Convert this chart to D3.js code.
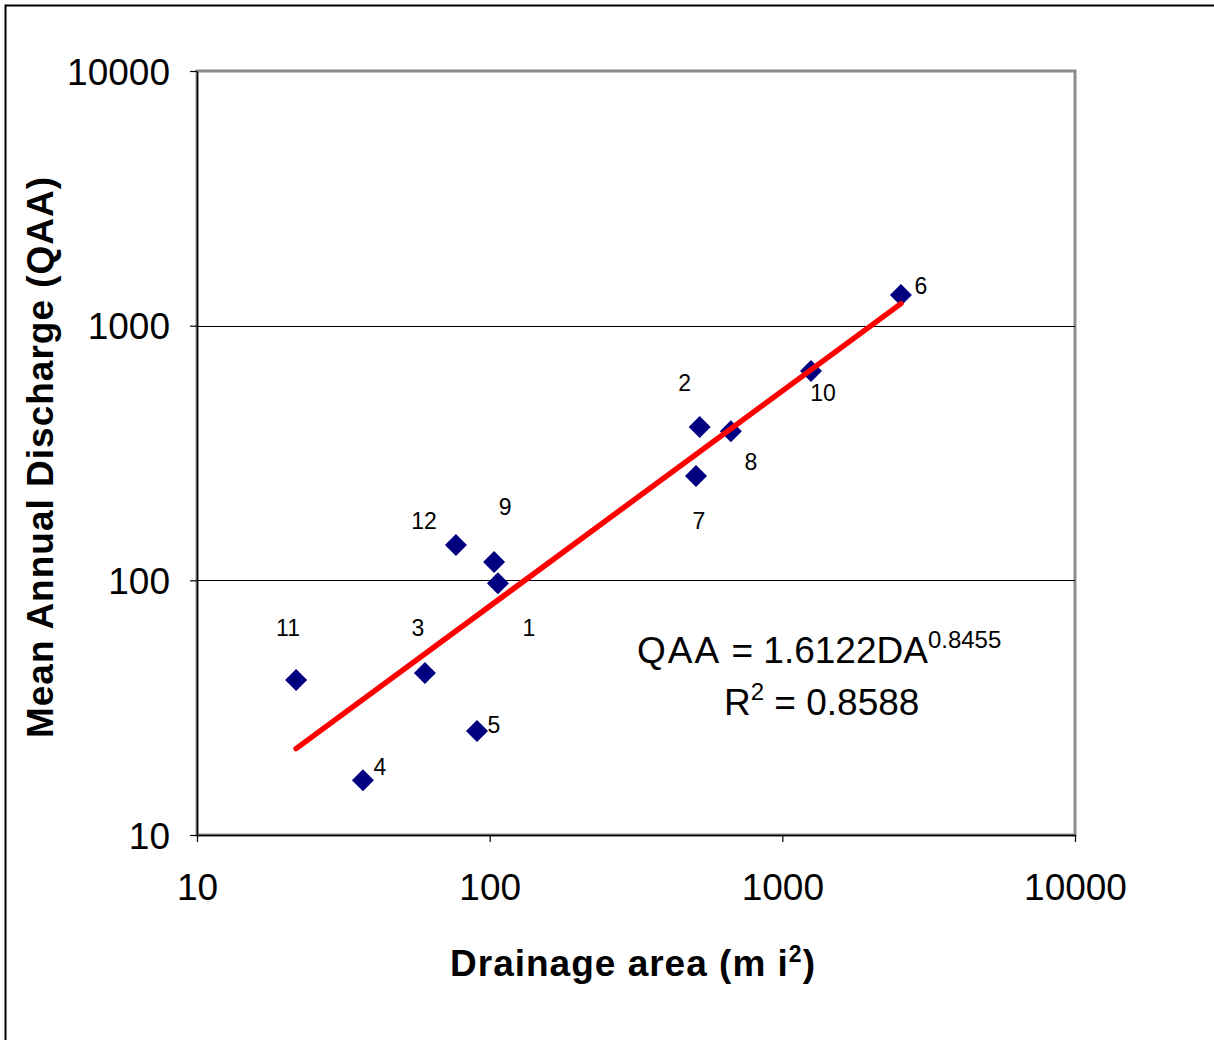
<!DOCTYPE html>
<html>
<head>
<meta charset="utf-8">
<script src="https://cdn.jsdelivr.net/npm/d3@7"></script>
<style>
  body { margin: 0; background: #fff; }
  text { font-family: "Liberation Sans", Arial, sans-serif; }
</style>
</head>
<body>
<script>
// gauging stations: drainage area (mi2) and mean annual discharge
var stations = ["1", "2", "3", "4", "5", "6", "7", "8", "9", "10", "11", "12"];
var drainageArea = [106.7, 522, 60.1, 36.9, 90.5, 2543, 507, 667, 103.5, 1253, 21.8, 76.7];
var meanDischarge = [97.5, 400, 43.3, 16.4, 25.6, 1319, 257, 385, 118, 663, 40.6, 137.6];
// where each station number sits relative to its marker
var labelOffsets = [[31, 45], [-15, -44], [-7, -45], [17, -13], [17, -6], [20, -9],
                    [3, 45], [20, 31], [11, -55], [12, 22], [-8, -52], [-32, -24]];
var tickValues = [10, 100, 1000, 10000];
// power trendline QAA = a * DA^b
var fitA = 1.6122, fitB = 0.8455, fitR2 = 0.8588;

var margin = { top: 71, left: 197 },
    width = 878,
    height = 764;

var svg = d3.select("body").append("svg")
    .attr("width", 1214)
    .attr("height", 1040);

svg.append("rect")
    .attr("x", 5.5).attr("y", 5.5)
    .attr("width", 1230).attr("height", 1060)
    .attr("fill", "none")
    .attr("stroke", "#000")
    .attr("stroke-width", 2);

var g = svg.append("g").attr("transform", "translate(" + margin.left + "," + margin.top + ")");

var x = d3.scaleLog().domain([10, 10000]).range([0, width]),
    y = d3.scaleLog().domain([10, 10000]).range([height, 0]);

// plot area frame (grey top/right)
g.append("rect")
    .attr("width", width).attr("height", height)
    .attr("fill", "#fff")
    .attr("stroke", "#8c8c8c")
    .attr("stroke-width", 3);

// gridlines
g.selectAll(".grid")
    .data([100, 1000])
    .enter().append("line")
    .attr("x1", 0).attr("x2", width)
    .attr("y1", function (d) { return Math.round(y(d)) + 0.5; })
    .attr("y2", function (d) { return Math.round(y(d)) + 0.5; })
    .attr("stroke", "#000")
    .attr("stroke-width", 1);

var xAxis = g.append("g")
    .attr("transform", "translate(0," + height + ")")
    .call(d3.axisBottom(x).tickValues(tickValues).tickFormat(d3.format("d")).tickSize(7).tickSizeOuter(0).tickPadding(32));

var yAxis = g.append("g")
    .call(d3.axisLeft(y).tickValues(tickValues).tickFormat(d3.format("d")).tickSize(7).tickSizeOuter(0).tickPadding(20));

[xAxis, yAxis].forEach(function (a) {
    a.select(".domain").attr("stroke", "#000").attr("stroke-width", 1.5);
    a.selectAll(".tick line").attr("stroke", "#000").attr("stroke-width", 1.2);
    a.selectAll(".tick text")
        .attr("fill", "#000")
        .style("font-family", "'Liberation Sans', Arial, sans-serif")
        .style("font-size", "37px");
});
yAxis.selectAll(".tick text").attr("dy", "0.36em");

// markers
var pts = stations.map(function (s, i) {
    return { name: s, area: drainageArea[i], q: meanDischarge[i], off: labelOffsets[i] };
});

g.selectAll(".pt")
    .data(pts)
    .enter().append("path")
    .attr("class", "pt")
    .attr("d", "M0,-11L11,0L0,11L-11,0Z")
    .attr("transform", function (d) { return "translate(" + x(d.area) + "," + y(d.q) + ")"; })
    .attr("fill", "#000080");

// trendline over the data extent
var xExt = d3.extent(drainageArea);
var fit = xExt.map(function (v) { return { area: v, q: fitA * Math.pow(v, fitB) }; });
g.append("path")
    .datum(fit)
    .attr("d", d3.line().x(function (d) { return x(d.area); }).y(function (d) { return y(d.q); }))
    .attr("fill", "none")
    .attr("stroke", "#ff0000")
    .attr("stroke-width", 5.5)
    .attr("stroke-linecap", "round");

// station numbers
g.selectAll(".lbl")
    .data(pts)
    .enter().append("text")
    .attr("class", "lbl")
    .attr("x", function (d) { return x(d.area) + d.off[0]; })
    .attr("y", function (d) { return y(d.q) + d.off[1]; })
    .attr("text-anchor", "middle")
    .attr("dy", "0.35em")
    .style("font-size", "23px")
    .text(function (d) { return d.name; });

// equation
var eq = svg.append("text")
    .attr("x", 637).attr("y", 663)
    .style("font-size", "37px");
eq.append("tspan").style("letter-spacing", "2px").text("QAA");
eq.append("tspan").text(" = " + fitA + "DA");
eq.append("tspan").attr("dy", -15).style("font-size", "24px").text(fitB);

var r2 = svg.append("text")
    .attr("x", 724).attr("y", 715)
    .style("font-size", "37px");
r2.append("tspan").text("R");
r2.append("tspan").attr("dy", -15).style("font-size", "24px").text("2");
r2.append("tspan").attr("dy", 15).text(" = " + fitR2);

// axis titles
var xt = svg.append("text")
    .attr("x", 633).attr("y", 976)
    .attr("text-anchor", "middle")
    .style("font-size", "37px")
    .style("font-weight", "bold")
    .style("letter-spacing", "1px");
xt.append("tspan").text("Drainage area (m i");
xt.append("tspan").attr("dy", -14).style("font-size", "23px").text("2");
xt.append("tspan").attr("dy", 14).text(")");

svg.append("text")
    .attr("transform", "translate(53,457) rotate(-90)")
    .attr("text-anchor", "middle")
    .style("font-size", "37px")
    .style("font-weight", "bold")
    .style("letter-spacing", "1px")
    .text("Mean Annual Discharge (QAA)");
</script>
</body>
</html>
